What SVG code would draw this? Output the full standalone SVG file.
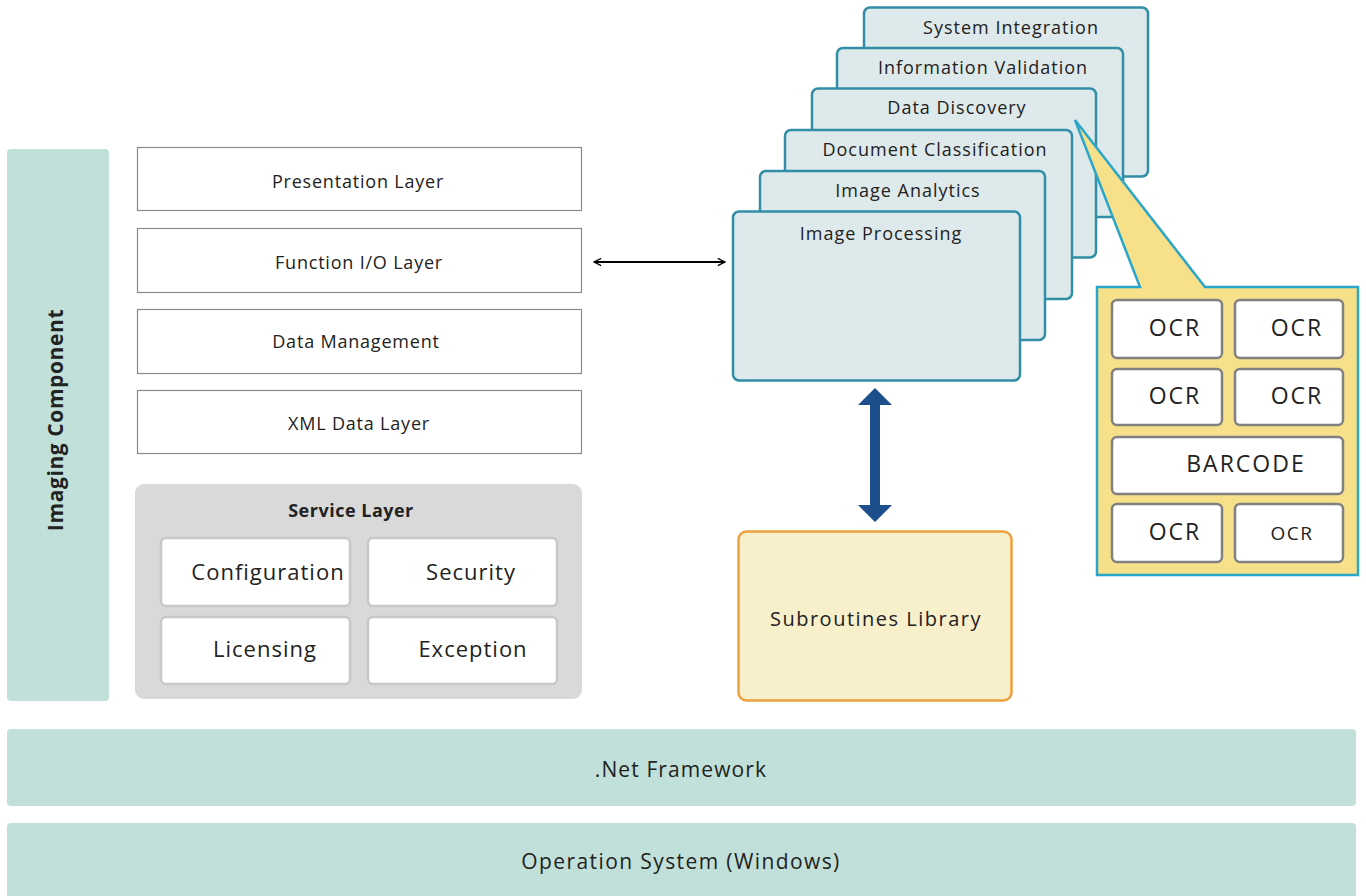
<svg xmlns="http://www.w3.org/2000/svg" width="1366" height="896" viewBox="0 0 1366 896">
<defs>
<style>
text{font-family:"Open Sans","Liberation Sans",sans-serif;fill:#222;text-anchor:middle}
.base{fill:#c0e0d9}
.layer{fill:#fff;stroke:#8a8a8a;stroke-width:1.2}
.svc{fill:#fff;stroke:#c8c8c8;stroke-width:2.5}
.card{fill:#dee9eb;stroke:#318ea6;stroke-width:2.5}
.ocr{fill:#fff;stroke:#808080;stroke-width:2.5}
.t17{font-size:18px;letter-spacing:0.8px}
.tc{font-size:18px;letter-spacing:1px}
.t21{font-size:22px;letter-spacing:1px}
.to{font-size:23px;letter-spacing:2px}
</style>
<marker id="open" viewBox="0 0 10 10" refX="9" refY="5" markerWidth="9" markerHeight="9" markerUnits="userSpaceOnUse" orient="auto-start-reverse">
<path d="M1,1 L9,5 L1,9" fill="none" stroke="#000" stroke-width="1.5"/>
</marker>
</defs>
<rect width="1366" height="896" fill="#fff"/>

<g id="os"><rect class="base" x="7" y="823" width="1349" height="90" rx="4"/><text x="681" y="869" style="font-size:21px;letter-spacing:1.4px">Operation System (Windows)</text></g>
<g id="net"><rect class="base" x="7" y="729" width="1349" height="77" rx="4"/><text x="681" y="777" style="font-size:21px;letter-spacing:1.1px">.Net Framework</text></g>

<g id="imaging"><rect class="base" x="7" y="149" width="102" height="552" rx="4"/><text transform="translate(63,420) rotate(-90)" style="font-size:21px;font-weight:bold;letter-spacing:0.6px">Imaging Component</text></g>

<g id="presentation"><rect class="layer" x="137.5" y="147.5" width="444" height="63"/><text class="t17" x="358" y="188">Presentation Layer</text></g>
<g id="functionio"><rect class="layer" x="137.5" y="228.5" width="444" height="64"/><text class="t17" x="359" y="269">Function I/O Layer</text></g>
<g id="datamgmt"><rect class="layer" x="137.5" y="309.5" width="444" height="64"/><text class="t17" x="356" y="348">Data Management</text></g>
<g id="xml"><rect class="layer" x="137.5" y="390.5" width="444" height="63"/><text class="t17" x="359" y="430">XML Data Layer</text></g>

<g id="service">
<rect x="135" y="484" width="447" height="215" rx="9" fill="#d9d9d9"/>
<text x="351" y="517" style="font-size:18px;font-weight:bold;letter-spacing:0.5px">Service Layer</text>
<g id="configuration"><rect class="svc" x="161" y="538" width="189" height="68" rx="5"/><text class="t21" x="268" y="580">Configuration</text></g>
<g id="security"><rect class="svc" x="368" y="538" width="189" height="68" rx="5"/><text class="t21" x="471" y="580">Security</text></g>
<g id="licensing"><rect class="svc" x="161" y="617" width="189" height="67" rx="5"/><text class="t21" x="265" y="657">Licensing</text></g>
<g id="exception"><rect class="svc" x="368" y="617" width="189" height="67" rx="5"/><text class="t21" x="473" y="657">Exception</text></g>
</g>

<g id="sysint"><rect class="card" x="864" y="7.5" width="284" height="169" rx="6"/><text class="tc" x="1011" y="34">System Integration</text></g>
<g id="infoval"><rect class="card" x="837" y="48" width="286" height="169" rx="6"/><text class="tc" x="983" y="74">Information Validation</text></g>
<g id="datadisc"><rect class="card" x="812" y="88.5" width="284" height="169" rx="6"/><text class="tc" x="957" y="114">Data Discovery</text></g>
<g id="docclass"><rect class="card" x="785" y="130" width="287" height="169" rx="6"/><text class="tc" x="935" y="156">Document Classification</text></g>
<g id="imganalytics"><rect class="card" x="760" y="171" width="285" height="169" rx="6"/><text class="tc" x="908" y="197">Image Analytics</text></g>
<g id="imgproc"><rect class="card" x="733" y="211.5" width="287" height="169" rx="6"/><text class="tc" x="881" y="240">Image Processing</text></g>

<g id="callout">
<path d="M1097,287 L1140,287 L1075,120 L1205,287 L1358,287 L1358,575 L1097,575 Z" fill="#f7e08a" stroke="#29a6c9" stroke-width="2.5" stroke-linejoin="miter"/>
<g id="ocr1"><rect class="ocr" x="1112" y="300" width="110" height="58" rx="5"/><text class="to" x="1175" y="336">OCR</text></g>
<g id="ocr2"><rect class="ocr" x="1235" y="300" width="108" height="58" rx="5"/><text class="to" x="1297" y="336">OCR</text></g>
<g id="ocr3"><rect class="ocr" x="1112" y="369" width="110" height="56" rx="5"/><text class="to" x="1175" y="404">OCR</text></g>
<g id="ocr4"><rect class="ocr" x="1235" y="369" width="108" height="56" rx="5"/><text class="to" x="1297" y="404">OCR</text></g>
<g id="barcode"><rect class="ocr" x="1112" y="437" width="231" height="57" rx="5"/><text class="to" x="1246" y="472">BARCODE</text></g>
<g id="ocr5"><rect class="ocr" x="1112" y="504" width="110" height="58" rx="5"/><text class="to" x="1175" y="540">OCR</text></g>
<g id="ocr6"><rect class="ocr" x="1235" y="504" width="108" height="58" rx="5"/><text x="1292" y="540" style="font-size:19px;letter-spacing:1.5px">OCR</text></g>
</g>

<g id="subroutines"><rect x="738.5" y="531.5" width="273" height="169" rx="8" fill="#f8efcb" stroke="#f0a040" stroke-width="2.5"/><text x="876" y="626" style="font-size:20px;letter-spacing:1.5px">Subroutines Library</text></g>

<g id="connectors">
<line x1="594" y1="262" x2="725" y2="262" stroke="#000" stroke-width="2" marker-start="url(#open)" marker-end="url(#open)"/>
<path d="M875,388 L892,405 L880,405 L880,505 L892,505 L875,522 L858,505 L870,505 L870,405 L858,405 Z" fill="#1d4f8c"/>
</g>
</svg>
